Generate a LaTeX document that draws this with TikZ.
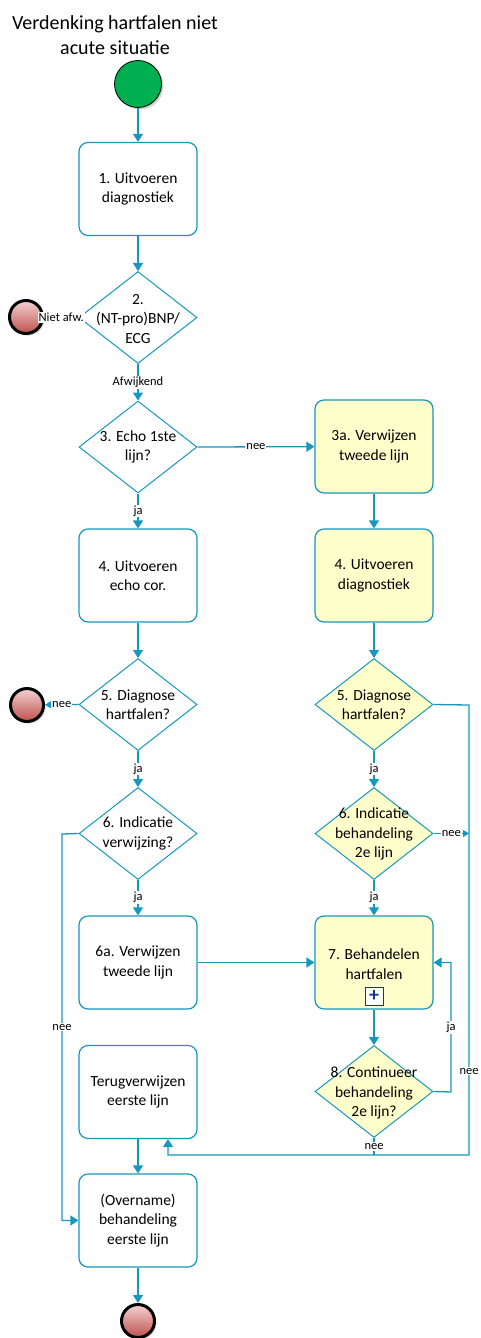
\documentclass[tikz,border=0pt]{standalone}
\usepackage{fontspec}
\setmainfont{Carlito}
\usetikzlibrary{arrows.meta,shapes.geometric,shadows,calc}
\definecolor{flow}{RGB}{22,152,190}
\definecolor{yel}{RGB}{255,255,204}
\definecolor{grn}{RGB}{0,176,80}
\definecolor{endtop}{RGB}{244,210,210}
\definecolor{endbot}{RGB}{190,80,76}
\definecolor{plusc}{RGB}{20,50,150}
\begin{document}
\begin{tikzpicture}[x=1pt,y=-1pt,
  every node/.style={inner sep=0pt},
  txt/.style={font=\fontsize{15.5}{19.5}\selectfont, align=center},
  task/.style={draw=flow, line width=1.2pt, rounded corners=9pt, minimum width=118pt, minimum height=93pt, fill=white},
  ytask/.style={task, fill=yel},
  gate/.style={draw=flow, line width=1pt, diamond, minimum width=118pt, minimum height=92pt, fill=white},
  ygate/.style={gate, fill=yel},
  startev/.style={circle, draw=black, line width=0.8pt, fill=grn, minimum size=47pt, drop shadow={shadow xshift=2pt, shadow yshift=-2pt, opacity=0.35}},
  endev/.style={circle, draw=black, line width=3pt, top color=endtop, bottom color=endbot, minimum size=33pt, drop shadow={shadow xshift=2pt, shadow yshift=-2pt, opacity=0.35}},
  flowline/.style={draw=flow, line width=1.3pt, -{Triangle[length=8pt,width=10pt]}},
  smallflow/.style={draw=flow, line width=1.3pt, -{Triangle[length=6pt,width=7pt]}},
  plainflow/.style={draw=flow, line width=1.3pt},
  lbl/.style={font=\fontsize{12.5}{14}\selectfont, fill=white, inner sep=1pt}
]
\useasboundingbox (0,0) rectangle (481,1338);

% title
\node[font=\fontsize{20}{25}\selectfont, align=center] (title) at (115,35) {Verdenking hartfalen niet\\acute situatie};

% events
\node[startev] (start) at (138,84) {};
\node[endev] (e1) at (26,317) {};
\node[endev] (e2) at (27,705) {};
\node[endev] (e3) at (138,1321) {};

% left column
\node[task] (b1) at (138,189) {};
\node[txt] (t1) at (b1) {1. Uitvoeren\\diagnostiek};
\node[gate] (d2) at (138,317.5) {};
\node[txt] (t2) at (138,319) {2.\\(NT-pro)BNP/\\ECG};
\node[gate] (d3) at (138,447) {};
\node[txt] (t3) at (d3) {3. Echo 1ste\\lijn?};
\node[task] (b4) at (138,575.5) {};
\node[txt] (t4) at (b4) {4. Uitvoeren\\echo cor.};
\node[gate] (d5) at (138,704.5) {};
\node[txt] (t5) at (d5) {5. Diagnose\\hartfalen?};
\node[gate] (d6) at (138,833.5) {};
\node[txt] (t6) at (d6) {6. Indicatie\\verwijzing?};
\node[task] (b6a) at (138,962.5) {};
\node[txt] (t6a) at (b6a) {6a. Verwijzen\\tweede lijn};
\node[task] (b8) at (138,1092) {};
\node[txt] (t8) at (b8) {Terugverwijzen\\eerste lijn};
\node[task] (b9) at (138,1220.5) {};
\node[txt] (t9) at (b9) {(Overname)\\behandeling\\eerste lijn};

% right column
\node[ytask] (b3a) at (374,446.5) {};
\node[txt] (t3a) at (b3a) {3a. Verwijzen\\tweede lijn};
\node[ytask] (b4r) at (374,575.5) {};
\node[txt] (t4r) at (b4r) {4. Uitvoeren\\diagnostiek};
\node[ygate] (d5r) at (374,704.5) {};
\node[txt] (t5r) at (d5r) {5. Diagnose\\hartfalen?};
\node[ygate] (d6r) at (374,833.5) {};
\node[txt] (t6r) at (374,834) {6. Indicatie\\behandeling\\2e lijn};
\node[ytask] (b7) at (374,962.5) {};
\node[txt] (t7) at (374,964) {7. Behandelen\\hartfalen};
\node[draw=plusc, line width=0.9pt, fill=white, minimum size=18pt, font=\fontsize{20}{20}\selectfont\bfseries, text=plusc] (plus) at (374,996) {+};
\node[ygate] (d8) at (374,1091.5) {};
\node[txt] (t8r) at (374,1093) {8. Continueer\\behandeling\\2e lijn?};

% helper coordinates
\coordinate (c1) at (62,834);
\coordinate (c2) at (469,705);
\coordinate (c3) at (168,1155);
\coordinate (c4) at (451,1092);

% connectors
\draw[flowline] (start) -- (b1);
\draw[flowline] (b1) -- (d2);
\draw[smallflow] (d2.west) -- (e1) node[midway, lbl] {Niet afw.};
\draw[flowline] (d2) -- (d3) node[midway, lbl] {Afwijkend};
\draw[flowline] (d3.east) -- (b3a) node[midway, lbl] {nee};
\draw[flowline] (d3) -- (b4) node[midway, lbl] {ja};
\draw[flowline] (b3a) -- (b4r);
\draw[flowline] (b4) -- (d5);
\draw[flowline] (b4r) -- (d5r);
\draw[smallflow] (d5.west) -- (e2) node[midway, lbl] {nee};
\draw[flowline] (d5) -- (d6) node[midway, lbl] {ja};
\draw[flowline] (d5r) -- (d6r) node[midway, lbl] {ja};
\draw[flowline] (d6) -- (b6a) node[midway, lbl] {ja};
\draw[flowline] (d6r) -- (b7) node[midway, lbl] {ja};
\draw[flowline] (d6.west) -- (c1) |- (b9.west) node[pos=0.25, lbl] {nee};
\draw[flowline] (b6a) -- (b7);
\draw[flowline] (b7) -- (plus.south |- d8.north);
\draw[flowline] (d8.east) -- (c4) |- (b7.east) node[pos=0.25, lbl] {ja};
\draw[smallflow] (d6r.east) -- (d6r.east -| c2) node[midway, lbl] {nee};
\draw[flowline] (d5r.east) -- (c2) |- (c3) node[pos=0.407, lbl] {nee} -- (b8.south -| c3);
\draw[plainflow] (d8.south) -- (d8.south |- c3) node[midway, lbl] {nee};
\draw[flowline] (b8) -- (b9);
\draw[flowline] (b9) -- (e3);
\end{tikzpicture}
\end{document}
